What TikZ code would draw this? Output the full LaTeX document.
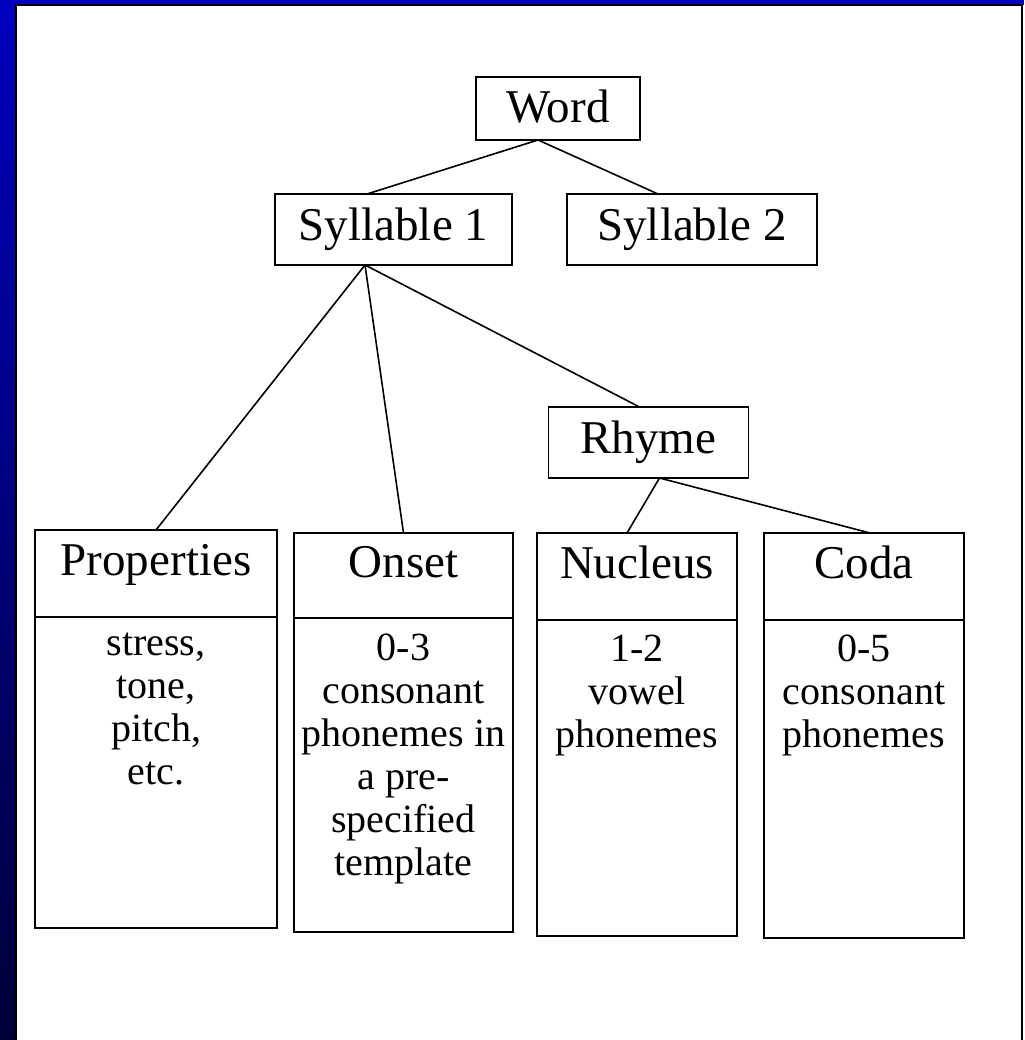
\documentclass[tikz,border=0pt]{standalone}
\usepackage{fontspec}
\setmainfont{Liberation Serif}
\usetikzlibrary{positioning}
\definecolor{slideblue}{RGB}{0,0,192}
\definecolor{slidenavy}{RGB}{0,0,56}

\tikzset{
  unitbox/.style={draw, line width=1.6pt, inner sep=0pt, outer sep=0pt,
    font=\fontsize{47}{52}\selectfont, text height=33pt, text depth=11pt},
  colhead/.style={unitbox, text height=24pt, text depth=20pt},
  colbody/.style={draw, line width=1.6pt, inner sep=0pt, outer sep=0pt},
  bodytext/.style={anchor=north, inner sep=0pt, align=center,
    font=\fontsize{40}{43}\selectfont, execute at begin node=\strut},
  branch/.style={line width=1.6pt}
}

\begin{document}
\begin{tikzpicture}[x=1pt,y=-1pt]
  \useasboundingbox (0,0) rectangle (1024,1040);
  \fill[white] (0,0) rectangle (1024,1040);
  \shade[top color=slideblue, bottom color=slidenavy] (0,0) rectangle (15,1040);
  \fill[slideblue] (15,0) rectangle (1024,5);
  \draw[line width=2pt] (16,1040) -- (16,5) -- (1022,5) -- (1022,1040);

  \node[unitbox, minimum width=164, minimum height=63, text height=36pt, text depth=7pt] (word) at (558,108.5) {Word};
  \node[unitbox, minimum width=237, minimum height=71] (syl1) at (393.5,229.5) {Syllable 1};
  \node[unitbox, minimum width=250, minimum height=71, right=55pt of syl1] (syl2) {Syllable 2};
  \node[unitbox, minimum width=200, minimum height=71] (rhyme) at (648.5,442.5) {Rhyme};

  \node[colhead, minimum width=242, minimum height=87] (prophd) at (156,573.5) {Properties};
  \node[colbody, minimum width=242, minimum height=311, below=0pt of prophd] (propbd) {};
  \node[bodytext] (proptx) at ([yshift=-16pt]propbd.north) {stress,\\tone,\\pitch,\\etc.};

  \node[colhead, minimum width=219, minimum height=85] (onsethd) at (403.5,575.5) {Onset};
  \node[colbody, minimum width=219, minimum height=314, below=0pt of onsethd] (onsetbd) {};
  \node[bodytext] (onsettx) at ([yshift=-16pt]onsetbd.north) {0-3\\consonant\\phonemes in\\a pre-\\specified\\template};

  \node[colhead, minimum width=200, minimum height=87] (nuchd) at (637,576.5) {Nucleus};
  \node[colbody, minimum width=200, minimum height=316, below=0pt of nuchd] (nucbd) {};
  \node[bodytext] (nuctx) at ([yshift=-15pt]nucbd.north) {1-2\\vowel\\phonemes};

  \node[colhead, minimum width=200, minimum height=87] (codahd) at (864,576.5) {Coda};
  \node[colbody, minimum width=200, minimum height=318, below=0pt of codahd] (codabd) {};
  \node[bodytext] (codatx) at ([yshift=-15pt]codabd.north) {0-5\\consonant\\phonemes};

  \draw[branch] ([xshift=-20pt]word.south) -- ([xshift=-26.5pt]syl1.north);
  \draw[branch] ([xshift=-20pt]word.south) -- ([xshift=-34pt]syl2.north);
  \draw[branch] ([xshift=-28.5pt]syl1.south) -- (prophd.north);
  \draw[branch] ([xshift=-28.5pt]syl1.south) -- (onsethd.north);
  \draw[branch] ([xshift=-28.5pt]syl1.south) -- ([xshift=-9pt]rhyme.north);
  \draw[branch] ([xshift=11pt]rhyme.south) -- ([xshift=-10pt]nuchd.north);
  \draw[branch] ([xshift=11pt]rhyme.south) -- ([xshift=6pt]codahd.north);
\end{tikzpicture}
\end{document}
